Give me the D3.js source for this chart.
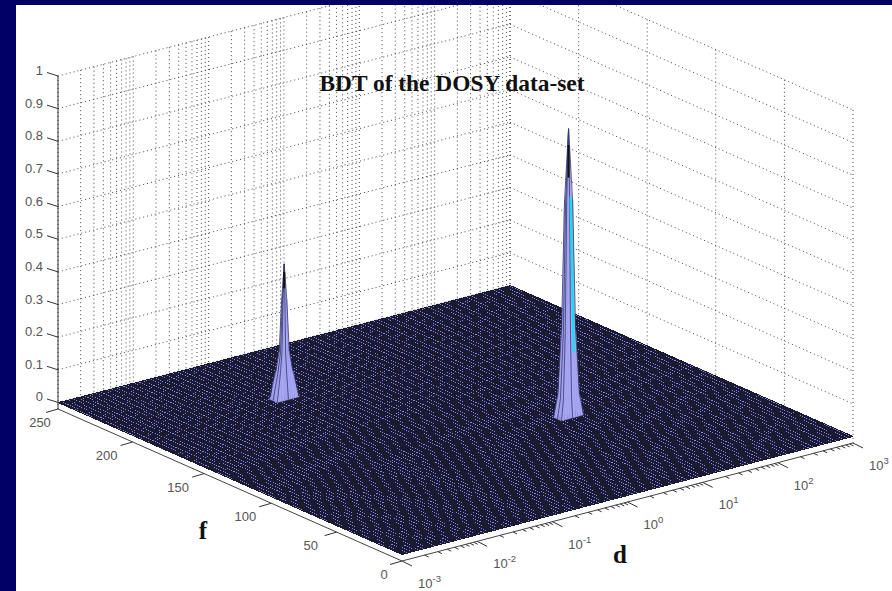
<!DOCTYPE html>
<html>
<head>
<meta charset="utf-8">
<title>BDT of the DOSY data-set</title>
<script src="https://d3js.org/d3.v7.min.js"></script>
<style>
  body { margin: 0; background: #000066; }
  svg { display: block; }
  .tick-label { font-family: "Liberation Sans", Arial, sans-serif; font-size: 13px; fill: #555; }
  .axis-title { font-family: "Liberation Serif", "Times New Roman", serif; font-weight: bold; fill: #111; }
</style>
</head>
<body>
<script>
// Axis values
const zTicks = [0, 0.1, 0.2, 0.3, 0.4, 0.5, 0.6, 0.7, 0.8, 0.9, 1];
const fTicks = [0, 50, 100, 150, 200, 250];
const dDecades = [-3, -2, -1, 0, 1, 2, 3];
const dMinorSteps = [2, 3, 4, 5, 6, 7, 8, 9];

// Peaks: height at each square ring of the mesh, apex first
const bigPeak = { d: 10.3, f: 100 };
const bigPeakHeights = [0.88, 0.66, 0.26, 0.06, 0];
const bigPeakDecades = [0, 0.04, 0.07, 0.11, 0.15];
const bigPeakF = [0, 0.8, 1.4, 2.2, 3];
const bigPeakTip = [0.83, 0.73];

const smallPeak = { d: 0.096, f: 197 };
const smallPeakHeights = [0.41, 0.3, 0.14, 0.08, 0];
const smallPeakDecades = [0, 0.025, 0.05, 0.085, 0.15];
const smallPeakF = [0, 0.5, 1, 1.7, 3];
const smallPeakTip = [0.385, 0.335];

// Bright edge running down the right of the big peak
const cyanEdgeHeights = [0.67, 0.19];
const cyanEdgeDecades = [0.025, 0.07];

const WIDTH = 892;
const HEIGHT = 591;
const PANEL = { LEFT: 16, TOP: 5 };

// Corners of the floor box on screen
const FLOOR = {
  front: [402, 561],   // f = 0, d = 1e-3
  right: [853, 443],   // f = 0, d = 1e3
  left: [58, 409],     // f = 250, d = 1e-3
  back: [510, 292],    // f = 250, d = 1e3
};

// d runs evenly, f is squeezed towards the viewer along the front edge only
const tScale = d3.scaleLog().domain([1e-3, 1e3]).range([0, 1]);
const uFront = d3.scaleLinear().domain([0, 100, 150, 200, 250]).range([0, 0.38, 0.575, 0.783, 1]);
const uBack = d3.scaleLinear().domain([0, 250]).range([0, 1]);
const zScale = d3.scaleLinear().domain([-0.02, 1]).range([0, 333]);

function project(d, f, z) {
  const t = tScale(d);
  const u = uFront(f) * (1 - t) + uBack(f) * t;
  const xy = [0, 1].map((k) => {
    const near = FLOOR.front[k] + (FLOOR.right[k] - FLOOR.front[k]) * t;
    const far = FLOOR.left[k] + (FLOOR.back[k] - FLOOR.left[k]) * t;
    return near + (far - near) * u;
  });
  return [xy[0], xy[1] - zScale(z)];
}

const line = d3.line();

const svg = d3.select("body").append("svg")
  .attr("width", WIDTH)
  .attr("height", HEIGHT);

svg.append("rect")
  .attr("x", PANEL.LEFT)
  .attr("y", PANEL.TOP)
  .attr("width", WIDTH - PANEL.LEFT)
  .attr("height", HEIGHT - PANEL.TOP)
  .attr("fill", "#fff");

svg.append("clipPath").attr("id", "panel")
  .append("rect")
  .attr("x", PANEL.LEFT)
  .attr("y", PANEL.TOP)
  .attr("width", WIDTH - PANEL.LEFT)
  .attr("height", HEIGHT - PANEL.TOP);

// Dotted grid on the two back walls
const dMinor = dDecades.slice(0, -1).flatMap((e) =>
  dMinorSteps.map((s) => s * Math.pow(10, e)));
const dMajor = dDecades.map((e) => Math.pow(10, e));

const wallSegments = [
  ...dMajor.concat(dMinor).map((d) => [project(d, 250, -0.02), project(d, 250, 1)]),
  ...fTicks.map((f) => [project(1e3, f, -0.02), project(1e3, f, 1)]),
  ...zTicks.map((z) => [project(1e-3, 250, z), project(1e3, 250, z)]),
  ...zTicks.map((z) => [project(1e3, 250, z), project(1e3, 0, z)]),
];

svg.append("g")
  .attr("clip-path", "url(#panel)")
  .selectAll("path")
  .data(wallSegments)
  .join("path")
    .attr("d", line)
    .attr("fill", "none")
    .attr("stroke", "#444")
    .attr("stroke-dasharray", "1 3");

// Flat part of the surface: lavender faces showing through a dense dark mesh
const corners = [[1e-3, 0], [1e3, 0], [1e3, 250], [1e-3, 250]];
svg.append("path")
  .attr("d", line(corners.map(([d, f]) => project(d, f, 0))) + "Z")
  .attr("fill", "#8484f4");

const meshF = d3.range(0, 250.5, 1.6);
const meshD = d3.range(-3, 3.001, 0.03).map((e) => Math.pow(10, e));
const meshSegments = [
  ...meshF.map((f) => [project(1e-3, f, 0), project(1e3, f, 0)]),
  ...meshD.map((d) => [project(d, 0, 0), project(d, 250, 0)]),
];
svg.append("path")
  .attr("d", meshSegments.map(line).join(""))
  .attr("fill", "none")
  .attr("stroke", "#1a1a30")
  .attr("shape-rendering", "crispEdges");

// Axis lines
svg.append("path")
  .attr("d", line([project(1e-3, 250, -0.02), project(1e-3, 250, 1)]))
  .attr("stroke", "#333");
svg.append("path")
  .attr("d", line([project(1e-3, 250, -0.02), project(1e-3, 0, -0.02), project(1e3, 0, -0.02)]))
  .attr("fill", "none")
  .attr("stroke", "#444");

// z axis ticks and labels
const zAxis = svg.append("g").selectAll("g").data(zTicks).join("g")
  .attr("transform", (z) => "translate(" + project(1e-3, 250, z) + ")");
zAxis.append("path").attr("d", "M0,0L-11,-3.5").attr("stroke", "#333");
zAxis.append("text")
  .attr("class", "tick-label")
  .attr("x", -15)
  .attr("y", -1)
  .attr("text-anchor", "end")
  .text((z) => z);

// f axis ticks and labels
const fAxis = svg.append("g").selectAll("g").data(fTicks).join("g")
  .attr("transform", (f) => "translate(" + project(1e-3, f, -0.02) + ")");
fAxis.append("path").attr("d", "M0,0L-12,3.5").attr("stroke", "#333");
fAxis.append("text")
  .attr("class", "tick-label")
  .attr("x", (f) => (f === 0 || f === 250 ? -18 : -26))
  .attr("y", 18)
  .attr("text-anchor", "middle")
  .text((f) => f);

// d axis ticks and labels
svg.append("g").selectAll("path").data(dMinor).join("path")
  .attr("transform", (d) => "translate(" + project(d, 0, -0.02) + ")")
  .attr("d", "M0,0L4,2")
  .attr("stroke", "#333");

const dAxis = svg.append("g").selectAll("g").data(dDecades).join("g")
  .attr("transform", (e) => "translate(" + project(Math.pow(10, e), 0, -0.02) + ")");
dAxis.append("path").attr("d", "M0,0L10,5").attr("stroke", "#333");
const dLabel = dAxis.append("text")
  .attr("class", "tick-label")
  .attr("x", 16)
  .attr("y", 27);
dLabel.append("tspan").text("10");
dLabel.append("tspan")
  .attr("dy", -6)
  .attr("font-size", "9.5px")
  .text((e) => e);

// Peaks, painted from the back of the box to the front
function drawPeak(peak, heights, decades, fOffsets, tip) {
  const last = heights.length - 1;
  const rings = d3.range(-last, last + 1);
  const vertex = (i, j) => {
    const d = peak.d * Math.pow(10, Math.sign(i) * decades[Math.abs(i)]);
    const f = peak.f + Math.sign(j) * fOffsets[Math.abs(j)];
    return project(d, f, heights[Math.max(Math.abs(i), Math.abs(j))]);
  };
  const cells = d3.cross(rings.slice(0, -1), rings.slice(0, -1))
    .sort((a, b) => (b[0] + b[1]) - (a[0] + a[1]));

  svg.append("g").selectAll("path").data(cells).join("path")
    .attr("d", ([i, j]) =>
      line([vertex(i, j), vertex(i + 1, j), vertex(i + 1, j + 1), vertex(i, j + 1)]) + "Z")
    .attr("fill", "#a6a6f2")
    .attr("stroke", "#9c9cea")
    .attr("stroke-width", 0.4);

  // Only the ridges of the front faces read as dark lines
  const ringSteps = d3.range(0, last + 1);
  const ridges = [[-1, -1], [-1, 1], [1, -1], [-1, 0], [0, -1]].map(([a, b]) =>
    ringSteps.map((k) => vertex(a * k, b * k)));
  svg.append("path")
    .attr("d", ridges.map(line).join(""))
    .attr("fill", "none")
    .attr("stroke", "#3a3a70")
    .attr("stroke-width", 0.8);

  // The lines crowd together to black near the top
  svg.append("path")
    .attr("d", line(tip.map((z) => project(peak.d, peak.f, z))))
    .attr("stroke", "#111")
    .attr("stroke-width", 2);
}

drawPeak(bigPeak, bigPeakHeights, bigPeakDecades, bigPeakF, bigPeakTip);
drawPeak(smallPeak, smallPeakHeights, smallPeakDecades, smallPeakF, smallPeakTip);

svg.append("path")
  .attr("d", line(cyanEdgeHeights.map((z, i) =>
    project(bigPeak.d * Math.pow(10, cyanEdgeDecades[i]), bigPeak.f, z))))
  .attr("stroke", "#00e8ee")
  .attr("stroke-width", 2);

// Title and axis names
svg.append("text")
  .attr("class", "axis-title")
  .attr("x", 452)
  .attr("y", 91)
  .attr("text-anchor", "middle")
  .attr("font-size", "23.4px")
  .text("BDT of the DOSY data-set");

svg.append("text")
  .attr("class", "axis-title")
  .attr("x", 203)
  .attr("y", 539)
  .attr("text-anchor", "middle")
  .attr("font-size", "25px")
  .text("f");

svg.append("text")
  .attr("class", "axis-title")
  .attr("x", 620)
  .attr("y", 563)
  .attr("text-anchor", "middle")
  .attr("font-size", "25px")
  .text("d");
</script>
</body>
</html>
